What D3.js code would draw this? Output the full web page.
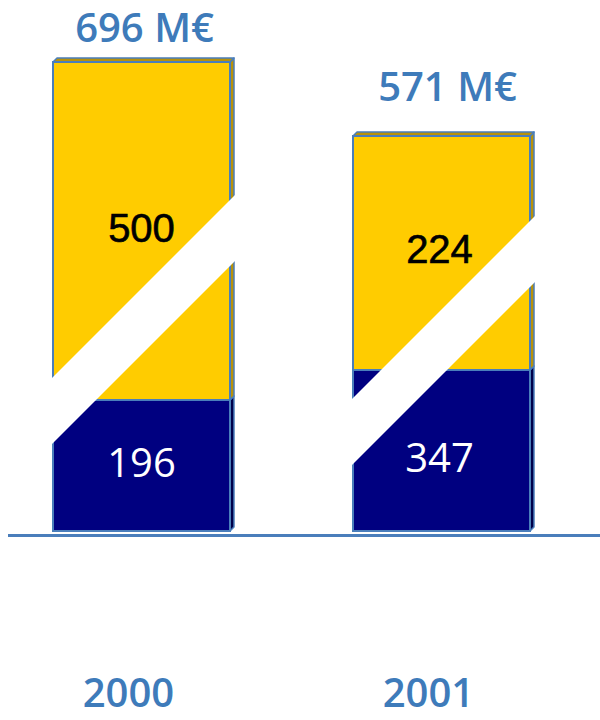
<!DOCTYPE html>
<html><head><meta charset="utf-8">
<script src="https://cdn.jsdelivr.net/npm/d3@7"></script>
<style>html,body{margin:0;padding:0;background:#fff;}svg{display:block;}</style>
</head><body>
<script>
// ---- data ----
const years = ["2000", "2001"];
const bottomValues = [196, 347];   // navy segment
const topValues = [500, 224];      // yellow segment
const totalLabels = ["696 M€", "571 M€"];

const W = 600, H = 720;
const svg = d3.select("body").append("svg").attr("width", W).attr("height", H);

const totals = years.map((_, i) => bottomValues[i] + topValues[i]);

// broken (piecewise-linear) value axis, as in the original stylised chart
const y = d3.scaleLinear()
  .domain([0, 196, 347, 571, 696])
  .range([531, 400, 370, 136, 62]);

const x = d3.scaleBand().domain(years).range([53, 530]).paddingInner(0.41).paddingOuter(0);
const bw = x.bandwidth();

const YELLOW = "#FFCC00", NAVY = "#000080", EDGE = "#4A7EBB", BLUE = "#3E7BBA";
const YELLOW_DARK = "#B8920A", NAVY_DARK = "#00004A";
const depth = 4;

// break band offsets (upper edge at bar's left side, relative to bar)
const breakAt = [377, 398];
const bandThick = 66;

years.forEach((yr, i) => {
  const x0 = x(yr), x1 = x0 + bw;
  const segs = [
    {y0: y(0), y1: y(bottomValues[i]), fill: NAVY, dark: NAVY_DARK},
    {y0: y(bottomValues[i]), y1: y(totals[i]), fill: YELLOW, dark: YELLOW_DARK}
  ];
  const g = svg.append("g");
  segs.forEach((s, k) => {
    g.append("path")
      .attr("d", `M${x1},${s.y1} L${x1+depth},${s.y1-depth} L${x1+depth},${s.y0-depth} L${x1},${s.y0} Z`)
      .attr("fill", s.dark).attr("stroke", EDGE).attr("stroke-width", 1.5).attr("stroke-linejoin", "round");
    if (k === segs.length - 1) {
      g.append("path")
        .attr("d", `M${x0},${s.y1} L${x0+depth},${s.y1-depth} L${x1+depth},${s.y1-depth} L${x1},${s.y1} Z`)
        .attr("fill", s.dark).attr("stroke", EDGE).attr("stroke-width", 1.5).attr("stroke-linejoin", "round");
    }
    g.append("rect")
      .attr("x", x0).attr("y", s.y1).attr("width", bw).attr("height", s.y0 - s.y1)
      .attr("fill", s.fill).attr("stroke", EDGE).attr("stroke-width", 2);
  });
  // white diagonal break band
  const ya = breakAt[i];
  const xl = x0 - 4, xr = x1 + depth + 4;
  const up = (xx) => ya - (xx - x0);
  svg.append("path")
    .attr("d", `M${xl},${up(xl)} L${xr},${up(xr)} L${xr},${up(xr)+bandThick} L${xl},${up(xl)+bandThick} Z`)
    .attr("fill", "#fff");
});

// axis line
svg.append("line").attr("x1", 8).attr("x2", 600).attr("y1", 535.5).attr("y2", 535.5)
  .attr("stroke", EDGE).attr("stroke-width", 3);

// total labels
svg.selectAll(".tot").data(years).join("text")
  .attr("x", (d, i) => x(d) + bw / 2 + [3, 6][i])
  .attr("y", (d, i) => y(totals[i]) - [20, 35][i])
  .attr("text-anchor", "middle")
  .attr("font-family", "'Open Sans', sans-serif").attr("font-weight", 600).attr("font-size", 40)
  .attr("fill", BLUE)
  .text((d, i) => totalLabels[i]);

// top segment values
svg.selectAll(".tv").data(years).join("text")
  .attr("x", (d, i) => x(d) + bw / 2 - [0, 2][i])
  .attr("y", (d, i) => [242, 263][i])
  .attr("text-anchor", "middle")
  .attr("font-family", "'Liberation Sans', Arial, sans-serif").attr("font-size", 40)
  .attr("fill", "#000").attr("stroke", "#000").attr("stroke-width", 0.6)
  .text((d, i) => topValues[i]);

// bottom segment values
svg.selectAll(".bv").data(years).join("text")
  .attr("x", (d, i) => x(d) + bw / 2 - [0, 2][i])
  .attr("y", (d, i) => [477, 472][i])
  .attr("text-anchor", "middle")
  .attr("font-family", "'Open Sans', sans-serif").attr("font-weight", 500).attr("font-size", 40)
  .attr("fill", "#fff")
  .text((d, i) => bottomValues[i]);

// year labels
svg.selectAll(".yr").data(years).join("text")
  .attr("x", d => x(d) + bw / 2 - 13)
  .attr("y", 707)
  .attr("text-anchor", "middle")
  .attr("font-family", "'Open Sans', sans-serif").attr("font-weight", 600).attr("font-size", 40)
  .attr("fill", BLUE)
  .text(d => d);
</script>
</body></html>
